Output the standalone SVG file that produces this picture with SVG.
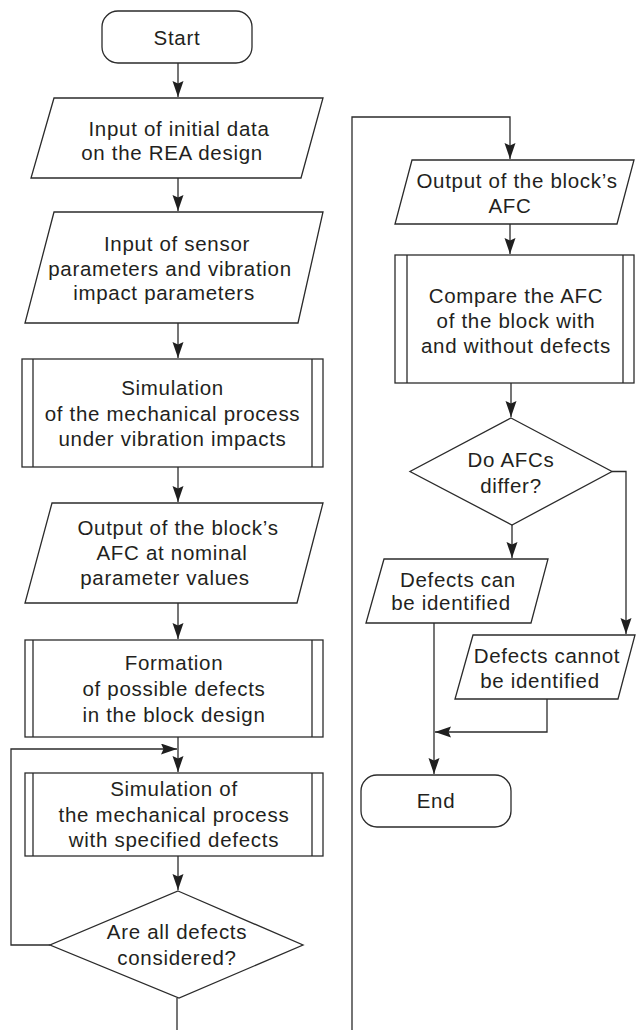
<svg xmlns="http://www.w3.org/2000/svg" width="636" height="1030" viewBox="0 0 636 1030">
<style>
.s{fill:#fff;stroke:#2b2b2b;stroke-width:1.3}
.c{fill:none;stroke:#2b2b2b;stroke-width:1.3}
text{font-family:"Liberation Sans",Arial,sans-serif;font-size:20.5px;fill:#231f20;text-anchor:middle;letter-spacing:0.7px}
</style>
<defs>
<marker id="ah" markerUnits="userSpaceOnUse" markerWidth="17" markerHeight="12" refX="16" refY="5.5" orient="auto">
<path d="M0,0 L16,5.5 L0,11 L2.5,5.5 z" fill="#1f1f1f"/>
</marker>
</defs>
<rect width="636" height="1030" fill="#fff"/>
<g id="connectors">
<path class="c" d="M178,63 V97" marker-end="url(#ah)"/>
<path class="c" d="M178,178 V211" marker-end="url(#ah)"/>
<path class="c" d="M178,323 V358" marker-end="url(#ah)"/>
<path class="c" d="M178,467 V502" marker-end="url(#ah)"/>
<path class="c" d="M178,603 V639" marker-end="url(#ah)"/>
<path class="c" d="M178,737 V772" marker-end="url(#ah)"/>
<path class="c" d="M50,945 H11 V749 H177" marker-end="url(#ah)"/>
<path class="c" d="M178,856 V890" marker-end="url(#ah)"/>
<path class="c" d="M177,998 V1030"/>
<path class="c" d="M352,1030 V117 H510 V159" marker-end="url(#ah)"/>
<path class="c" d="M510,224 V254" marker-end="url(#ah)"/>
<path class="c" d="M511,383 V417" marker-end="url(#ah)"/>
<path class="c" d="M512,525 V558" marker-end="url(#ah)"/>
<path class="c" d="M612,471.5 H626 V634" marker-end="url(#ah)"/>
<path class="c" d="M434,623 V774" marker-end="url(#ah)"/>
<path class="c" d="M547,699 V732 H435" marker-end="url(#ah)"/>
</g>
<g id="start">
<rect class="s" x="102" y="11" width="150" height="52" rx="16"/>
<text x="177" y="45">Start</text>
</g>
<g id="input1">
<polygon class="s" points="54,98 323,98 301,178 31,178"/>
<text x="179" y="136">Input of initial data</text>
<text x="172" y="160">on the REA design</text>
</g>
<g id="input2">
<polygon class="s" points="54,212 323,212 298,323 25,323"/>
<text x="177" y="251">Input of sensor</text>
<text x="170" y="276">parameters and vibration</text>
<text x="164" y="300">impact parameters</text>
</g>
<g id="sim1">
<rect class="s" x="22" y="359" width="301" height="108"/>
<path class="c" d="M33,359 V467 M312,359 V467"/>
<text x="172.5" y="395">Simulation</text>
<text x="172.5" y="420.5">of the mechanical process</text>
<text x="172.5" y="446">under vibration impacts</text>
</g>
<g id="output1">
<polygon class="s" points="52,503 323,503 297,603 25,603"/>
<text x="178" y="535">Output of the block’s</text>
<text x="172" y="560">AFC at nominal</text>
<text x="165" y="585">parameter values</text>
</g>
<g id="formation">
<rect class="s" x="25" y="640" width="298" height="97"/>
<path class="c" d="M33,640 V737 M312,640 V737"/>
<text x="174" y="670">Formation</text>
<text x="174" y="696">of possible defects</text>
<text x="174" y="721.5">in the block design</text>
</g>
<g id="sim2">
<rect class="s" x="25" y="773" width="298" height="83"/>
<path class="c" d="M33,773 V856 M312,773 V856"/>
<text x="174" y="796">Simulation of</text>
<text x="174" y="821.5">the mechanical process</text>
<text x="174" y="846.5">with specified defects</text>
</g>
<g id="decision1">
<polygon class="s" points="178,891 303,945 179,998 50,945"/>
<text x="177" y="939">Are all defects</text>
<text x="177" y="965">considered?</text>
</g>
<g id="output2">
<polygon class="s" points="412,160 634,160 617,224 395,224"/>
<text x="517" y="188">Output of the block’s</text>
<text x="510" y="213">AFC</text>
</g>
<g id="compare">
<rect class="s" x="395" y="255" width="239" height="128"/>
<path class="c" d="M407,255 V383 M623,255 V383"/>
<text x="516" y="303">Compare the AFC</text>
<text x="516" y="328">of the block with</text>
<text x="516" y="353">and without defects</text>
</g>
<g id="decision2">
<polygon class="s" points="511,418 612,471.5 512,525 410,471.5"/>
<text x="511" y="467">Do AFCs</text>
<text x="511" y="493">differ?</text>
</g>
<g id="can">
<polygon class="s" points="384,559 548,559 531,623 366,623"/>
<text x="458" y="587">Defects can</text>
<text x="451" y="610">be identified</text>
</g>
<g id="cannot">
<polygon class="s" points="473,635 635,635 618,699 455,699"/>
<text x="547" y="663">Defects cannot</text>
<text x="540" y="688">be identified</text>
</g>
<g id="end">
<rect class="s" x="361" y="775" width="150" height="52" rx="16"/>
<text x="436" y="808">End</text>
</g>
</svg>
